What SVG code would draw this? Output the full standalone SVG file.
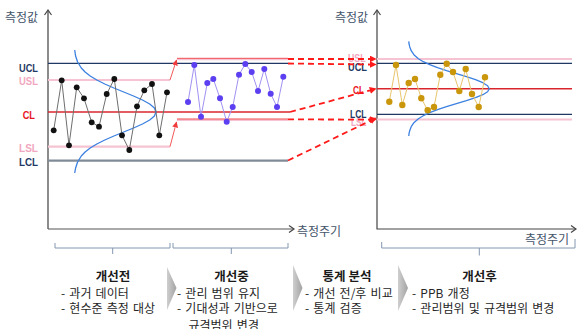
<svg xmlns="http://www.w3.org/2000/svg" width="577" height="329" viewBox="0 0 577 329">
<style>
.kr{font-family:"Noto Sans CJK KR","Noto Sans",sans-serif;}
.lab{font-family:"Liberation Sans",Arial,sans-serif;font-weight:bold;}
.axl{fill:#44546a;font-size:12px;}
.body{fill:#262626;font-size:12px;word-spacing:1.5px;}
.ttl{fill:#1a1a1a;font-size:12.5px;font-weight:bold;}
.navy{fill:#1f3864;}
.pinkt{fill:#f2a7c0;}
.redt{fill:#e8141e;}
.axis{fill:none;stroke:#7f7f7f;stroke-width:1.8;}
.axis2{fill:none;stroke:#444;stroke-width:1.2;}
.ucl{stroke:#1f3864;stroke-width:1.3;fill:none;}
.cl{stroke:#d9262c;stroke-width:1.5;fill:none;}
.spec{stroke:#f6c3d2;stroke-width:2.2;fill:none;}
.lcl{stroke:#808b97;stroke-width:2.2;fill:none;}
.dist{stroke:#3c80e0;stroke-width:1.3;fill:none;}
.dash{stroke:#ff1a1a;stroke-width:1.8;stroke-dasharray:6 4;fill:none;}
.thin{stroke:#f04646;stroke-width:0.9;fill:none;}
.brk{stroke:#8497b0;stroke-width:1;fill:none;}
.bk{fill:#111;}
.pu{fill:#5b3ff0;}
.go{fill:#c9960c;}
</style>
<defs>
<marker id="ar" viewBox="0 0 10 10" refX="9" refY="5" markerWidth="7" markerHeight="7" markerUnits="userSpaceOnUse" orient="auto">
<path d="M0,0 L10,5 L0,10 z" fill="#ff1a1a"/>
</marker>
<marker id="ar2" viewBox="0 0 10 10" refX="9" refY="5" markerWidth="6" markerHeight="6" markerUnits="userSpaceOnUse" orient="auto">
<path d="M0,0 L10,5 L0,10 z" fill="#f03c3c"/>
</marker>
<linearGradient id="chev" x1="0" y1="0" x2="1" y2="0">
<stop offset="0" stop-color="#cfcfcf"/>
<stop offset="1" stop-color="#a2a2a2"/>
</linearGradient>
</defs>

<g id="left-chart">
<path class="axis" d="M48,11 V229"/>
<path class="axis2" d="M44.5,15 L48,10 L51.5,15"/>
<path d="M48,229 H293" stroke="#555" stroke-width="1.2" fill="none"/>
<path class="axis2" d="M289,225.5 L294,229 L289,232.5"/>
<text class="kr axl" x="5" y="22">측정값</text>
<text class="kr axl" x="297" y="236">측정주기</text>

<path class="spec" d="M48,80 H170"/>
<path class="spec" d="M48,146.7 H170"/>
<path class="ucl" d="M48,63.3 H288"/>
<path class="cl" d="M48,112 H290"/>
<path class="lcl" d="M48,160.7 H288"/>

<path class="spec" d="M177,59.2 H288"/>
<path class="thin" d="M177,58.3 H288"/>
<path class="spec" d="M177,119.8 H288"/>
<path class="thin" d="M177,119 H288"/>

<text class="lab navy" x="19" y="71.5" font-size="11.5" textLength="19" lengthAdjust="spacingAndGlyphs">UCL</text>
<text class="lab pinkt" x="19" y="85" font-size="11.5" textLength="19" lengthAdjust="spacingAndGlyphs">USL</text>
<text class="lab redt" x="22.7" y="119" font-size="11.5" textLength="12.3" lengthAdjust="spacingAndGlyphs">CL</text>
<text class="lab pinkt" x="19" y="152" font-size="11.5" textLength="19" lengthAdjust="spacingAndGlyphs">LSL</text>
<text class="lab navy" x="19" y="166" font-size="11.5" textLength="19" lengthAdjust="spacingAndGlyphs">LCL</text>

<polyline class="dist" points="74.7,50 75.6,56 77.6,62 81.3,68 85.1,72 90.2,76 96.8,80 104.8,84 113.9,88 123.7,92 133.5,96 142.5,100 149.7,104 154.4,108 156,112 154.4,116 149.7,120 142.5,124 133.5,128 123.7,132 113.9,136 104.8,140 96.8,144 90.2,148 85.1,152 81.3,156 77.6,162 75.6,168 74.7,173" stroke-linejoin="round"/>

<polyline fill="none" stroke="#6e6e6e" stroke-width="1" points="53.7,130.3 61.7,80.3 69,145.3 76.7,87.3 84,98.3 91.7,122.3 99,126.7 106.7,94 114.3,79 122,135.3 129.3,150 137,106.3 144.3,90.3 152,84 159.3,135.3 167,92.3"/>
<g class="bk">
<circle cx="53.7" cy="130.3" r="2.9"/><circle cx="61.7" cy="80.3" r="2.9"/><circle cx="69" cy="145.3" r="2.9"/><circle cx="76.7" cy="87.3" r="2.9"/>
<circle cx="84" cy="98.3" r="2.9"/><circle cx="91.7" cy="122.3" r="2.9"/><circle cx="99" cy="126.7" r="2.9"/><circle cx="106.7" cy="94" r="2.9"/>
<circle cx="114.3" cy="79" r="2.9"/><circle cx="122" cy="135.3" r="2.9"/><circle cx="129.3" cy="150" r="2.9"/><circle cx="137" cy="106.3" r="2.9"/>
<circle cx="144.3" cy="90.3" r="2.9"/><circle cx="152" cy="84" r="2.9"/><circle cx="159.3" cy="135.3" r="2.9"/><circle cx="167" cy="92.3" r="2.9"/>
</g>

<polyline fill="none" stroke="#a092f2" stroke-width="1" points="188,102 194.3,65 201,116.7 207.3,83 213.3,79 220,98.3 226.7,121.7 232.7,107 239,74.7 245.3,64 251.7,72 258,91 264.3,69 270.7,93.7 277,107 283.3,76.7"/>
<g class="pu">
<circle cx="188" cy="102" r="3"/><circle cx="194.3" cy="65" r="3"/><circle cx="201" cy="116.7" r="3"/><circle cx="207.3" cy="83" r="3"/>
<circle cx="213.3" cy="79" r="3"/><circle cx="220" cy="98.3" r="3"/><circle cx="226.7" cy="121.7" r="3"/><circle cx="232.7" cy="107" r="3"/>
<circle cx="239" cy="74.7" r="3"/><circle cx="245.3" cy="64" r="3"/><circle cx="251.7" cy="72" r="3"/><circle cx="258" cy="91" r="3"/>
<circle cx="264.3" cy="69" r="3"/><circle cx="270.7" cy="93.7" r="3"/><circle cx="277" cy="107" r="3"/><circle cx="283.3" cy="76.7" r="3"/>
</g>
</g>

<g id="right-chart">
<path class="axis2" d="M377,11 V229 H576"/>
<path class="axis2" d="M373.5,15 L377,10 L380.5,15"/>
<path class="axis2" d="M571,225.5 L576,229 L571,232.5"/>
<text class="kr axl" x="335" y="22">측정값</text>
<text class="kr axl" x="525" y="244" font-size="11.5px">측정주기</text>

<path class="spec" d="M377,59 H572"/>
<path class="ucl" d="M377,63.3 H572"/>
<path class="cl" d="M377,88.7 H572"/>
<path class="ucl" d="M377,114.3 H572"/>
<path class="spec" d="M377,119.5 H572"/>

<polyline class="dist" stroke-linejoin="round" points="408.8,41.4 409,43.7 409.7,46.7 411.2,50.7 413.9,54.7 418.4,58.7 423.3,61.7 429.7,64.7 437.5,67.7 446.5,70.7 456.4,73.7 466.4,76.7 475.5,79.7 482.8,82.7 487.6,85.7 489.3,88.7 487.6,91.7 482.8,94.7 475.5,97.7 466.4,100.7 456.4,103.7 446.5,106.7 437.5,109.7 429.7,112.7 423.3,115.7 418.4,118.7 413.9,122.7 411.2,126.7 409.7,130.7 409,133.7 408.8,136"/>

<polyline fill="none" stroke="#e8c56c" stroke-width="1" points="389.3,101.7 396,65 402.3,105 408.7,83 415,79 421.3,98.3 427.7,110.3 434,107 440.3,74.7 446.7,63.7 453,72 459.3,91 465.7,69 472,94 478.7,107 485,77.3"/>
<g class="go">
<circle cx="389.3" cy="101.7" r="3.2"/><circle cx="396" cy="65" r="3.2"/><circle cx="402.3" cy="105" r="3.2"/><circle cx="408.7" cy="83" r="3.2"/>
<circle cx="415" cy="79" r="3.2"/><circle cx="421.3" cy="98.3" r="3.2"/><circle cx="427.7" cy="110.3" r="3.2"/><circle cx="434" cy="107" r="3.2"/>
<circle cx="440.3" cy="74.7" r="3.2"/><circle cx="446.7" cy="63.7" r="3.2"/><circle cx="453" cy="72" r="3.2"/><circle cx="459.3" cy="91" r="3.2"/>
<circle cx="465.7" cy="69" r="3.2"/><circle cx="472" cy="94" r="3.2"/><circle cx="478.7" cy="107" r="3.2"/><circle cx="485" cy="77.3" r="3.2"/>
</g>

<text class="lab pinkt" x="348" y="62" font-size="10.5" textLength="17.5" lengthAdjust="spacingAndGlyphs">USL</text>
<text class="lab navy" x="348" y="71" font-size="10.5" textLength="19" lengthAdjust="spacingAndGlyphs">UCL</text>
<text class="lab redt" x="353" y="94" font-size="10.5" textLength="11" lengthAdjust="spacingAndGlyphs">CL</text>
<text class="lab navy" x="350" y="118" font-size="10.5" textLength="16.5" lengthAdjust="spacingAndGlyphs">LCL</text>
<text class="lab pinkt" x="351" y="126" font-size="10.5" textLength="15.5" lengthAdjust="spacingAndGlyphs">LSL</text>
</g>

<g id="connectors">
<path class="thin" d="M170,80 L176.5,60" marker-end="url(#ar2)"/>
<path class="thin" d="M170,146.7 L176.5,122" marker-end="url(#ar2)"/>
<path class="dash" d="M288,59 H376" marker-end="url(#ar)"/>
<path class="dash" d="M288,63.5 L376,64.6" marker-end="url(#ar)"/>
<path class="dash" d="M290,112 L376,88.7" marker-end="url(#ar)"/>
<path class="dash" d="M288,119.4 L376,119.6" marker-end="url(#ar)"/>
<path class="dash" d="M288,160.5 L376,118" marker-end="url(#ar)"/>
</g>

<g id="brackets">
<path class="brk" d="M55,243 V248 H170 V243 M112.7,248 V254"/>
<path class="brk" d="M173,243 V248 H288 V243 M231.3,248 V254"/>
<path class="brk" d="M381.7,242 V248 H575 V239 M479.3,248 V255.5"/>
</g>

<g id="chevrons">
<polygon points="167,267 176.5,288 167,310" fill="url(#chev)"/>
<polygon points="293,265 302.5,288 293,311" fill="url(#chev)"/>
<polygon points="398,265 408,288 398,311" fill="url(#chev)"/>
</g>

<g id="stage-before">
<text class="kr ttl" x="113" y="280.5" text-anchor="middle">개선전</text>
<text class="kr body" x="61" y="298">- 과거 데이터</text>
<text class="kr body" x="61" y="313">- 현수준 측정 대상</text>
</g>
<g id="stage-during">
<text class="kr ttl" x="231.5" y="280.5" text-anchor="middle">개선중</text>
<text class="kr body" x="177" y="298">- 관리 범위 유지</text>
<text class="kr body" x="177" y="313">- 기대성과 기반으로</text>
<text class="kr body" x="188.5" y="329.5">규격범위 변경</text>
</g>
<g id="stage-analysis">
<text class="kr ttl" x="347" y="280.5" text-anchor="middle">통계 분석</text>
<text class="kr body" x="305" y="298">- 개선 전/후 비교</text>
<text class="kr body" x="305" y="313">- 통계 검증</text>
</g>
<g id="stage-after">
<text class="kr ttl" x="479.5" y="280.5" text-anchor="middle">개선후</text>
<text class="kr body" x="412" y="298">- PPB 개정</text>
<text class="kr body" x="412" y="313">- 관리범위 및 규격범위 변경</text>
</g>
</svg>
